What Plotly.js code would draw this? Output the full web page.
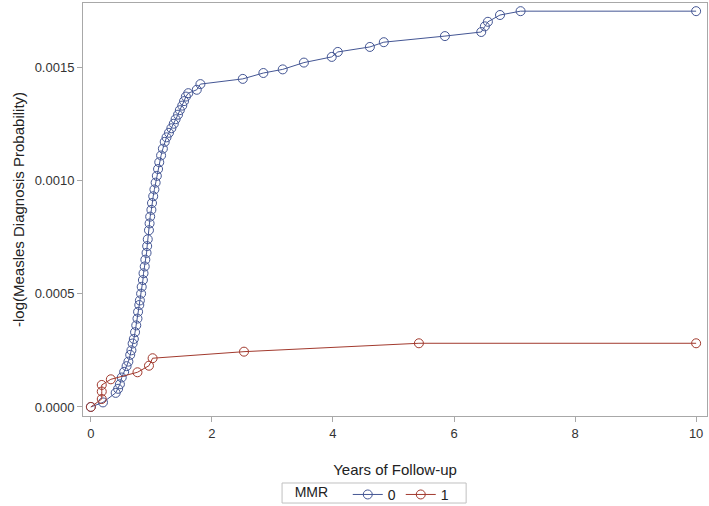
<!DOCTYPE html>
<html>
<head>
<meta charset="utf-8">
<script src="https://cdn.plot.ly/plotly-3.0.1.min.js"></script>
<style>
  body { margin: 0; background: #fff; }
  #chart { width: 709px; height: 506px; }
</style>
</head>
<body>
<div id="chart"></div>
<script>
// MMR = 0 (no vaccine)
var years0 = [0, 0.2, 0.41, 0.45, 0.48, 0.51, 0.55, 0.59, 0.62, 0.65, 0.67, 0.69, 0.71, 0.73, 0.75,
    0.77, 0.78, 0.80, 0.81, 0.83, 0.84, 0.86, 0.87, 0.89, 0.90, 0.92, 0.93, 0.94, 0.96, 0.97, 0.98,
    1.00, 1.01, 1.03, 1.05, 1.07, 1.09, 1.11, 1.13, 1.16, 1.19, 1.22, 1.25, 1.29, 1.33, 1.37, 1.40,
    1.44, 1.47, 1.51, 1.54, 1.57, 1.61, 1.75, 1.81, 2.51, 2.85, 3.17, 3.52, 3.98, 4.08, 4.61, 4.84,
    5.85, 6.45, 6.51, 6.56, 6.76, 7.1, 10]
var prob0 = [0, 0.00002, 0.000062, 0.00008, 0.0001, 0.00013, 0.000155, 0.00018, 0.0002, 0.00023, 0.00025,
    0.00028, 0.0003, 0.00033, 0.00036, 0.00039, 0.00042, 0.00045, 0.00047, 0.0005, 0.00053, 0.00056,
    0.00059, 0.00062, 0.00065, 0.00068, 0.00071, 0.00074, 0.00078, 0.00081, 0.00084, 0.00087, 0.0009,
    0.00093, 0.00096, 0.00099, 0.00102, 0.00105, 0.00108, 0.00111, 0.00114, 0.00117, 0.00119, 0.00121,
    0.00123, 0.00125, 0.00127, 0.00129, 0.00131, 0.00133, 0.00135, 0.00137, 0.001385, 0.0014, 0.001425,
    0.001448, 0.001474, 0.00149, 0.00152, 0.001545, 0.001567, 0.001589, 0.00161, 0.001637, 0.001655,
    0.00168, 0.0017, 0.00173, 0.001747, 0.001747]

// MMR = 1 (vaccinated)
var years1 = [0, 0.18, 0.18, 0.18, 0.33, 0.77, 0.96, 1.02, 2.53, 5.42, 10]
var prob1 = [0, 0.000035, 0.000068, 0.000097, 0.000122, 0.000153, 0.000182, 0.000215, 0.000244, 0.000281, 0.000281]

var fnt = "Liberation Sans, Arial, sans-serif"

var data = [
  {
    x: years0, y: prob0, name: '0', mode: 'lines+markers', type: 'scatter',
    line: {color: '#445694', width: 1},
    marker: {symbol: 'circle-open', size: 9, color: '#445694', line: {width: 1}}
  },
  {
    x: years1, y: prob1, name: '1', mode: 'lines+markers', type: 'scatter',
    line: {color: '#A23A2E', width: 1},
    marker: {symbol: 'circle-open', size: 9, color: '#A23A2E', line: {width: 1}}
  }
]

var axisStyle = {
  showline: true, mirror: true, linecolor: '#a8a8a8', linewidth: 1,
  showgrid: false, zeroline: false, automargin: false,
  ticks: 'outside', ticklen: 5, tickcolor: '#a8a8a8',
  tickfont: {family: fnt, size: 13, color: '#333'}
}

var layout = {
  width: 709, height: 506,
  margin: {l: 83, r: 2, t: 3, b: 90},
  paper_bgcolor: '#fff', plot_bgcolor: '#fff',
  font: {family: fnt, color: '#333'},
  showlegend: true,
  xaxis: Object.assign({}, axisStyle, {
    range: [-0.13, 10.18], tickvals: [0, 2, 4, 6, 8, 10],
    title: {text: 'Years of Follow-up', font: {family: fnt, size: 15, color: '#222'}, standoff: 24}
  }),
  yaxis: Object.assign({}, axisStyle, {
    range: [-0.00004, 0.001783], tickvals: [0, 0.0005, 0.001, 0.0015], tickformat: '.4f',
    title: {text: '-log(Measles Diagnosis Probability)', font: {family: fnt, size: 15, color: '#222'}, standoff: 6}
  }),
  legend: {
    orientation: 'h', xref: 'container', yref: 'container',
    x: 0.527, xanchor: 'center', y: 0.022, yanchor: 'middle',
    borderwidth: 0, bgcolor: 'rgba(0,0,0,0)',
    title: {text: 'MMR   ', side: 'left', font: {family: fnt, size: 14, color: '#222'}},
    font: {family: fnt, size: 14, color: '#222'}
  },
  // legend frame, as in the original
  shapes: [{
    type: 'rect', xref: 'paper', yref: 'paper',
    x0: 0.319, x1: 0.614, y0: -0.2107, y1: -0.1622,
    line: {color: '#c0c0c0', width: 1}, fillcolor: 'rgba(0,0,0,0)'
  }]
}

Plotly.newPlot('chart', data, layout, {displayModeBar: false, staticPlot: true})
</script>
</body>
</html>
